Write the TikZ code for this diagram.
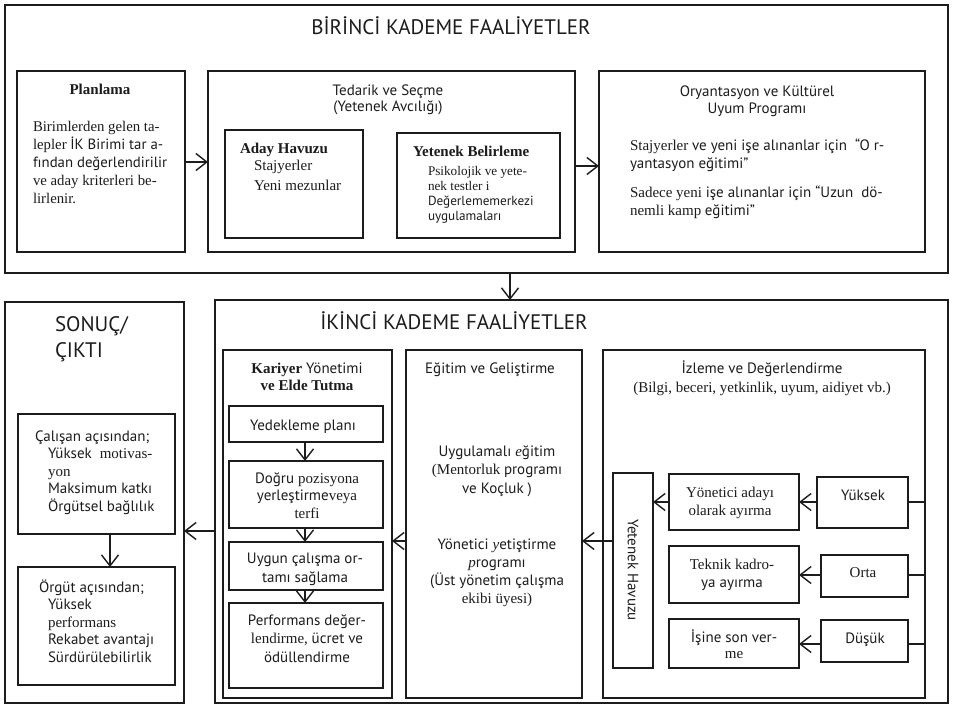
\documentclass[tikz,border=0pt]{standalone}
\usepackage{fontspec}
\setmainfont{Liberation Serif}
\setsansfont{PT Sans}
\usetikzlibrary{arrows.meta}
\definecolor{ink}{HTML}{1C1C1C}
\newcommand\fsans{\sffamily}
\newcommand\fser{\rmfamily}
\newcommand\fl[1][15]{\rule{0pt}{#1pt}}
\newcommand\fsz[2]{\fontsize{#1}{#2}\selectfont}
\newcommand\bx[6]{\node[#6, minimum width={(#4)-(#2)}, minimum height={(#5)-(#3)}] (#1) at ({(#2+#4)/2},{(#3+#5)/2}) {};}
\tikzset{
  lvA/.style={draw=ink, line width=2.9pt, inner sep=0pt, outer sep=0pt},
  lvB/.style={draw=ink, line width=2.4pt, inner sep=0pt, outer sep=0pt},
  lvC/.style={draw=ink, line width=1.2pt, inner sep=0pt, outer sep=0pt},
  arr/.style={draw=ink, line width=1.4pt, -{Straight Barb[length=11pt,width=17pt,line width=1.4pt]}},
  ln/.style={draw=ink, line width=1.2pt},
  txt/.style={inner sep=0pt, outer sep=0pt, text=ink, font=\fsans\fsz{15}{18}},
  ttl/.style={inner sep=0pt, outer sep=0pt, text=ink, font=\fsans\fsz{21}{26}},
}
\begin{document}
\begin{tikzpicture}[x=1pt,y=-1pt]
\useasboundingbox (0,0) rectangle (953,709);
\fill[white] (0,0) rectangle (953,709);
% ---------- boxes ----------
\bx{top}{5}{5}{948}{273}{lvA}
\bx{plan}{17}{71}{185}{252}{lvB}
\bx{ted}{208}{71}{575}{252}{lvB}
\bx{aday}{225}{130}{363}{238}{lvC}
\bx{yet}{397}{133}{560}{238}{lvC}
\bx{ory}{599}{71}{925}{252}{lvB}
\bx{son}{5}{302}{184}{703}{lvA}
\bx{cal}{18}{414}{175}{534}{lvC}
\bx{org}{18}{567}{175}{685}{lvC}
\bx{iki}{215}{300}{948}{703}{lvA}
\bx{kar}{223}{350}{392}{698}{lvB}
\bx{ydk}{229}{406}{383}{442}{lvC}
\bx{dog}{229}{461}{383}{528}{lvC}
\bx{uyg}{229}{542}{383}{590}{lvC}
\bx{prf}{229}{603}{383}{688}{lvC}
\bx{egt}{406}{350}{582}{698}{lvB}
\bx{izl}{603}{350}{925}{698}{lvB}
\bx{yhv}{613}{473}{653}{668}{lvC}
\bx{yad}{669}{474}{799}{530}{lvC}
\bx{tek}{669}{546}{799}{603}{lvC}
\bx{isn}{669}{619}{799}{668}{lvC}
\bx{yuk}{817}{477}{908}{528}{lvC}
\bx{ort}{821}{555}{908}{597}{lvC}
\bx{dus}{821}{620}{908}{662}{lvC}
% ---------- helper coordinates ----------
\coordinate (yA) at (0,162);
\coordinate (yB) at (0,166);
\coordinate (xD) at (510,0);
\coordinate (yS) at (0,531);
\coordinate (xC) at (110,0);
\coordinate (yE) at (0,541);
\coordinate (xK) at (305,0);
\coordinate (y1) at (0,502);
\coordinate (y2) at (0,575);
\coordinate (y3) at (0,644);
% ---------- connectors ----------
\draw[arr] (plan.east |- yA) -- (ted.west |- yA);
\draw[arr] (ted.east |- yB) -- (ory.west |- yB);
\draw[arr] (top.south -| xD) -- (iki.north -| xD);
\draw[arr] (iki.west |- yS) -- (son.east |- yS);
\draw[arr] (cal.south -| xC) -- (org.north -| xC);
\draw[arr] (egt.west |- yE) -- (kar.east |- yE);
\draw[arr] (yhv.west |- yE) -- (egt.east |- yE);
\draw[arr] (ydk.south -| xK) -- (dog.north -| xK);
\draw[arr] (dog.south -| xK) -- (uyg.north -| xK);
\draw[arr] (uyg.south -| xK) -- (prf.north -| xK);
\draw[arr] (yad.west |- y1) -- (yhv.east |- y1);
\draw[arr] (yuk.west |- y1) -- (yad.east |- y1);
\draw[arr] (ort.west |- y2) -- (tek.east |- y2);
\draw[arr] (dus.west |- y3) -- (isn.east |- y3);
\draw[ln] (izl.east |- y1) -- (yuk.east |- y1);
\draw[ln] (izl.east |- y2) -- (ort.east |- y2);
\draw[ln] (izl.east |- y3) -- (dus.east |- y3);
% ---------- texts: first stage ----------
\node[ttl, anchor=base] (t1) at (451,35) {BİRİNCİ KADEME FAALİYETLER};
\node[txt, anchor=base, font=\fser\bfseries\fsz{15}{18}] (planT) at (100,95) {Planlama};
\node[txt, anchor=north west, align=left, font=\fsz{14.8}{18.2}] (planB) at (33,116)
  {\fl\fser Birimlerden gelen ta-\\ \fser lepler \fsans İK Birimi tar a-\\ \fsans fından değerlendirilir\\ \fser ve aday kriterleri be-\\ \fser lirlenir.};
\node[txt, anchor=north, align=center, font=\fsans\fsz{15}{16.5}] (tedT) at (388,80)
  {\fl Tedarik ve Seçme\\(Yetenek Avcılığı)};
\node[txt, anchor=base west, font=\fser\bfseries\fsz{15}{18}] (adayT) at (240,153) {Aday Havuzu};
\node[txt, anchor=north west, align=left, font=\fser\fsz{15}{20}] (adayB) at (254,155)
  {\fl\fser Stajyerler\\ \fser Yeni mezunlar};
\node[txt, anchor=base west, font=\fser\bfseries\fsz{15}{18}] (yetT) at (413,156) {Yetenek Belirleme};
\node[txt, anchor=north west, align=left, font=\fsz{13.2}{15}] (yetB) at (428,160)
  {\fl\fser Psikolojik ve yete-\\ \fser nek testler i\\ \fsans Değerlememerkezi\\ \fsans uygulamaları};
\node[txt, anchor=north, align=center, font=\fsans\fsz{15}{17}] (oryT) at (757,81)
  {\fl Oryantasyon ve Kültürel\\Uyum Programı};
\node[txt, anchor=north west, align=left, font=\fsz{15}{18}] (oryB1) at (630,135)
  {\fl\fser Stajyerler \fsans ve yeni işe alınanlar için \ “O r-\\ \fsans yantasyon eğitimi”};
\node[txt, anchor=north west, align=left, font=\fsz{15}{18}] (oryB2) at (630,182)
  {\fl\fser Sadece yeni \fsans işe alınanlar için “Uzun \ dö-\\ \fser nemli kamp \fsans eğitimi”};
% ---------- texts: result ----------
\node[ttl, anchor=north west, align=left] (sonT) at (55,311)
  {\fl[20]SONUÇ/\\ÇIKTI};
\node[txt, anchor=base west] (calT) at (35,441) {Çalışan açısından;};
\node[txt, anchor=north west, align=left, font=\fsz{15}{17.5}] (calB) at (48,443.5)
  {\fl\fsans Yüksek\hspace{8pt}\fser motivas-\\ \fser yon\\ \fsans Maksimum katkı\\ \fsans Örgütsel bağlılık};
\node[txt, anchor=base west] (orgT) at (39,592) {Örgüt açısından;};
\node[txt, anchor=north west, align=left, font=\fsz{15}{17.5}] (orgB) at (48,594.5)
  {\fl\fsans Yüksek\\ \fser performans\\ \fsans Rekabet avantajı\\ \fsans Sürdürülebilirlik};
% ---------- texts: second stage ----------
\node[ttl, anchor=base] (t2) at (454,329) {İKİNCİ KADEME FAALİYETLER};
\node[txt, anchor=north, align=center, font=\fsz{15}{17}] (karT) at (307,358)
  {\fl\fser\bfseries Kariyer\fsans\mdseries{} Yönetimi\\ \fser\bfseries ve Elde Tutma};
\node[txt, anchor=base] (ydkT) at (303,430) {Yedekleme planı};
\node[txt, anchor=north, align=center, font=\fsz{15}{17.5}] (dogT) at (307,468)
  {\fl\fsans Doğru \fser pozisyona\\ \fsans yerleştirme\fser veya\\ \fser terfi};
\node[txt, anchor=north, align=center, font=\fsz{15}{19}] (uygT) at (305,548)
  {\fl\fsans Uygun çalışma or-\\ \fsans tamı sağlama};
\node[txt, anchor=north, align=center, font=\fsz{15}{18.5}] (prfT) at (307,610)
  {\fl\fsans Performans değer-\\ \fser lendirme, \fsans ücret ve\\ \fsans ödüllendirme};
\node[txt, anchor=base] (egtT) at (490,373) {Eğitim ve Geliştirme};
\node[txt, anchor=north, align=center, font=\fsz{15}{18.5}] (egt1) at (497,441)
  {\fl\fsans Uygulamalı \fser\itshape e\fsans\upshape ğitim\\ \fser (Mentorluk \fsans programı\\ \fsans ve Koçluk )};
\node[txt, anchor=north, align=center, font=\fsz{15}{18.3}] (egt2) at (497,534)
  {\fl\fsans Yönetici \fser\itshape y\fsans\upshape etiştirme\\ \fser\itshape p\fsans\upshape rogramı\\ \fsans (Üst yönetim çalışma\\ \fser ekibi üyesi)};
\node[txt, anchor=north, align=center, font=\fsz{15}{19}] (izlT) at (762,358)
  {\fl\fsans İzleme ve Değerlendirme\\ \fser (Bilgi, beceri, yetkinlik, uyum, aidiyet vb.)};
\node[txt, rotate=-90] (yhvT) at (633,570) {Yetenek Havuzu};
\node[txt, anchor=north, align=center, font=\fsz{15}{18}] (yadT) at (730,482)
  {\fl Yönetici adayı\\olarak ayırma};
\node[txt, anchor=north, align=center, font=\fsz{15}{18}] (tekT) at (732,554)
  {\fl\fser Teknik kadro-\\ \fsans ya ayırma};
\node[txt, anchor=north, align=center, font=\fsz{15}{16}] (isnT) at (734,627)
  {\fl\fsans İşine son ver-\\ \fser me};
\node[txt, anchor=base] (yukT) at (863,500) {Yüksek};
\node[txt, anchor=base, font=\fser\fsz{15}{18}] (ortT) at (863,577) {Orta};
\node[txt, anchor=base] (dusT) at (865,643) {Düşük};
\end{tikzpicture}
\end{document}
